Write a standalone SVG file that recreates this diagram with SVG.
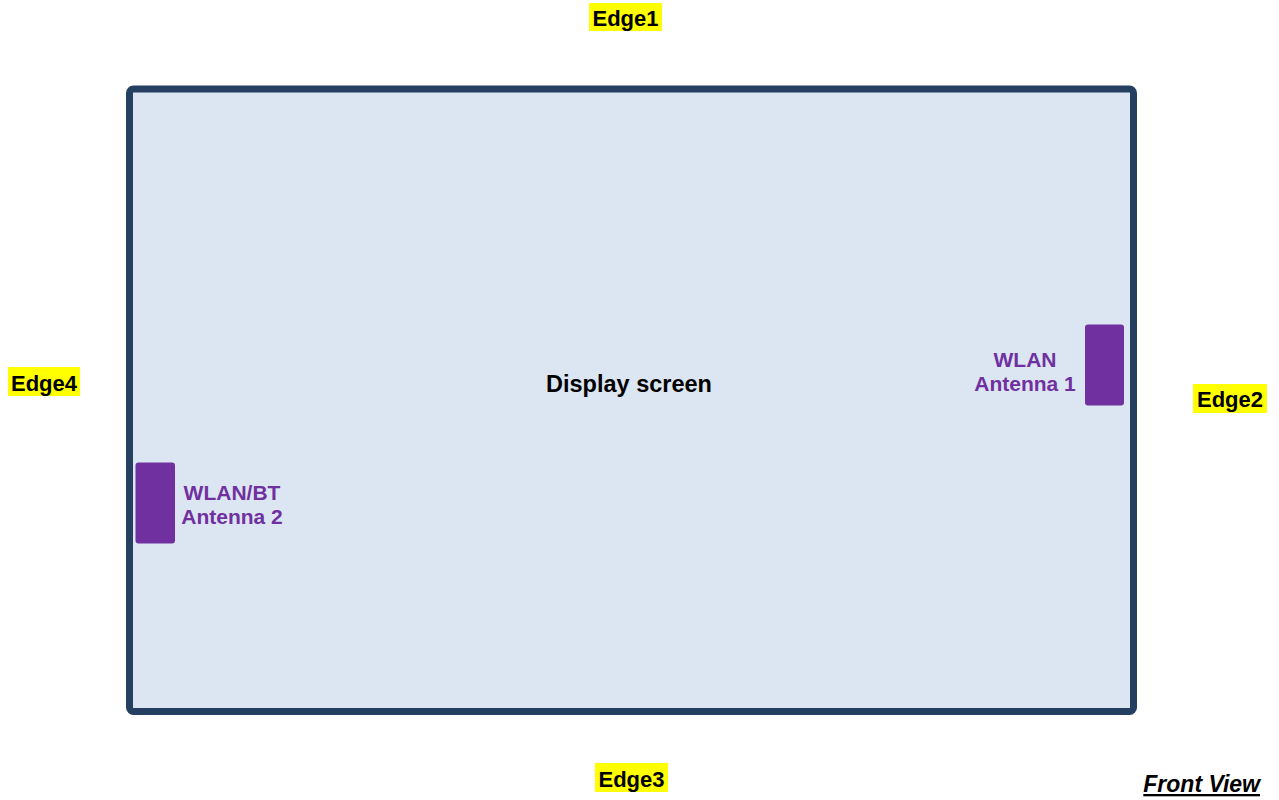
<svg xmlns="http://www.w3.org/2000/svg" width="1279" height="800" viewBox="0 0 1279 800">
<style>
.edge{font-family:"Liberation Sans",Arial,sans-serif;font-weight:bold;font-size:22px;fill:#000;text-anchor:middle}
.hl{fill:#FFFF00}
.ant{fill:#7030A0}
.alabel{font-family:"Liberation Sans",Arial,sans-serif;font-weight:bold;font-size:21px;fill:#7030A0;text-anchor:middle}
</style>
<rect width="1279" height="800" fill="#fff"/>
<g id="display">
<rect x="129.5" y="89" width="1004" height="622.5" rx="4" fill="#DCE6F2" stroke="#243F60" stroke-width="7"/>
<text x="629" y="392" font-family="Liberation Sans,Arial,sans-serif" font-weight="bold" font-size="23.5" text-anchor="middle" fill="#000">Display screen</text>
</g>
<g id="antenna1">
<rect class="ant" x="1085" y="324.5" width="39" height="81" rx="3"/>
<text class="alabel" x="1025" y="367">WLAN</text>
<text class="alabel" x="1025" y="391">Antenna 1</text>
</g>
<g id="antenna2">
<rect class="ant" x="135.5" y="462.5" width="39.5" height="81" rx="3"/>
<text class="alabel" x="232" y="500">WLAN/BT</text>
<text class="alabel" x="232" y="524">Antenna 2</text>
</g>
<g id="edge1">
<rect class="hl" x="589" y="3" width="73" height="28"/>
<text class="edge" x="625.5" y="26">Edge1</text>
</g>
<g id="edge2">
<rect class="hl" x="1193" y="384" width="74" height="29"/>
<text class="edge" x="1230" y="407">Edge2</text>
</g>
<g id="edge3">
<rect class="hl" x="595" y="763" width="73" height="29"/>
<text class="edge" x="631.5" y="786.5">Edge3</text>
</g>
<g id="edge4">
<rect class="hl" x="8" y="367" width="72" height="29"/>
<text class="edge" x="44" y="390.5">Edge4</text>
</g>
<g id="frontview">
<text x="1260" y="792" font-family="Liberation Sans,Arial,sans-serif" font-weight="bold" font-style="italic" font-size="23" text-anchor="end" text-decoration="underline" fill="#000">Front View</text>
</g>
</svg>
